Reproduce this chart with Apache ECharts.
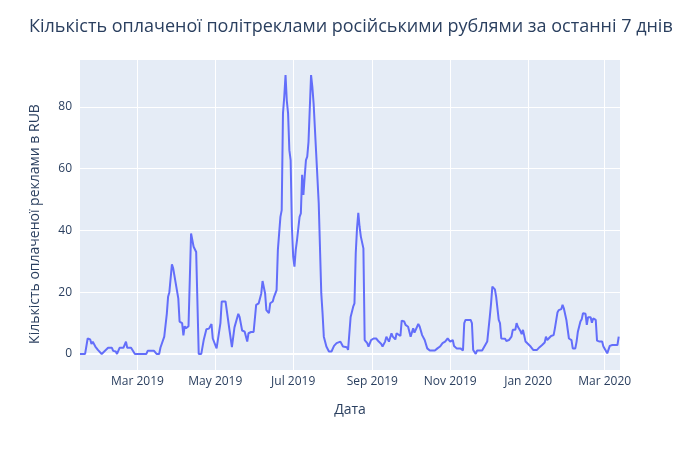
<!DOCTYPE html>
<head>
    <meta charset="UTF-8">
    <title>ECharts</title>
</head>
<body style="margin:0">
<div id="main" style="width:700px;height:450px"></div>
<script src="https://cdn.jsdelivr.net/npm/echarts@6/dist/echarts.min.js"></script>
<script type="text/javascript">
    // days counted from startDate
    var startDate = [2019, 0, 15];
    var dayArray = [
        0, 4, 6, 8, 9, 10, 12, 14, 15, 17, 19, 22, 25, 26, 28, 29, 31, 34, 36, 37,
        40, 43, 52, 53, 58, 60, 62, 63, 66, 68, 69, 70, 72, 73, 77, 78, 80, 81, 82, 83,
        85, 87, 88, 89, 91, 93, 95, 97, 99, 101, 103, 104, 105, 107, 108, 110, 111, 114, 117, 119,
        121, 122, 124, 125, 127, 129, 130, 131, 132, 134, 136, 138, 140, 142, 143, 145, 146, 148, 149, 151,
        152, 154, 155, 156, 157, 158, 159, 160, 161, 162, 163, 164, 165, 166, 167, 168, 169, 170, 171, 172,
        173, 174, 175, 176, 177, 178, 179, 180, 181, 182, 183, 185, 187, 189, 190, 191, 193, 195, 197, 199,
        201, 204, 205, 206, 209, 210, 212, 214, 215, 216, 217, 218, 219, 220, 222, 223, 225, 226, 228, 230,
        232, 234, 236, 237, 239, 240, 242, 243, 244, 245, 247, 248, 249, 251, 252, 254, 255, 257, 258, 259,
        261, 262, 263, 265, 266, 268, 269, 270, 272, 274, 278, 280, 282, 284, 286, 288, 290, 292, 293, 295,
        298, 300, 301, 302, 306, 307, 308, 310, 311, 315, 317, 318, 319, 321, 322, 323, 325, 326, 328, 329,
        330, 333, 334, 336, 338, 339, 341, 342, 343, 345, 346, 347, 349, 350, 353, 355, 358, 360, 362, 364,
        365, 366, 367, 369, 371, 372, 374, 375, 377, 378, 379, 381, 382, 383, 385, 386, 388, 389, 390, 392,
        393, 394, 396, 397, 398, 400, 401, 402, 404, 405, 407, 409, 410, 411, 413, 414, 415, 417, 421, 422,
        423
    ];
    var valueArray = [
        0, 0, 5, 4.7, 3.2, 4, 2.4, 1.3, 1, 0, 0.8, 2, 2, 1, 0.8, 0, 2, 2, 4, 2,
        2, 0, 0, 1, 1, 0, 0, 2, 5.6, 13, 18.5, 20, 29, 27.7, 18, 10.5, 10, 6, 9, 8.3,
        9, 39, 39, 34.7, 33, 0, 0, 4.7, 8, 8.2, 9.7, 5, 5, 1.8, 1.8, 10, 17, 17, 8, 2.2,
        8.6, 8.8, 13, 12, 7.6, 7.2, 7.8, 4, 6.7, 7.1, 7.1, 15.9, 16.4, 19.6, 23.6, 19.6, 14.2, 13.2, 16.4, 17,
        18.5, 20.7, 33.7, 33.7, 44.4, 46.6, 77.9, 83.3, 90.3, 82, 77.9, 66, 62.8, 41.2, 31.5, 28.3, 33.7, 36.9, 36.9, 44.4,
        45.5, 58, 51.5, 57.4, 62.8, 63.9, 68.7, 69.3, 90.3, 86.5, 81.1, 65, 48.8, 19.6, 13.2, 5.6, 2.4, 0.8, 0.8, 2.6,
        3.5, 4, 3.5, 2.4, 2.2, 1.3, 12, 15.3, 16.4, 32.6, 40.7, 45.7, 41.2, 38, 34.2, 4.5, 3.5, 2.4, 4.5, 5,
        5, 4, 3.2, 2.4, 4, 5.6, 4, 4.3, 6.7, 5.6, 4.7, 6.7, 6.9, 5.8, 10.8, 10.5, 9.4, 8.8, 8.8, 5.6,
        8.3, 6.9, 7.4, 9.7, 9, 6.1, 5.6, 4.5, 1.8, 1.1, 1.1, 1.8, 2.4, 3.5, 4, 5, 4, 4.5, 2.6, 1.8,
        1.8, 1.1, 10, 11, 11, 10, 1.3, 0, 1.1, 1.1, 2.6, 2.2, 4, 12, 16.4, 21.8, 20.9, 18.5, 11, 10,
        5, 4.9, 4.2, 4.5, 5.6, 7.8, 7.8, 10, 8.8, 7.4, 6.4, 7.8, 4, 3.5, 2.4, 1.3, 1.3, 2.2, 2.9, 3.7,
        5.6, 4.5, 4.3, 5.8, 6.1, 8.3, 13.4, 14.2, 14.5, 15.9, 14.8, 11, 8, 5, 4.5, 1.8, 1.8, 4, 7.2, 10.5,
        11.2, 13.2, 13, 9.4, 11.9, 11.9, 10.1, 11.5, 11, 4.3, 4, 4, 2.4, 2, 0.2, 0.8, 2.6, 2.9, 2.9, 5.6,
        5.6
    ];
    var xTickArray = ['2019-03-01', '2019-05-01', '2019-07-01', '2019-09-01', '2019-11-01', '2020-01-01', '2020-03-01'];
    var yTickArray = [0, 20, 40, 60, 80];
    var monthNames = ['Jan','Feb','Mar','Apr','May','Jun','Jul','Aug','Sep','Oct','Nov','Dec'];

    function dayToTime(d) {
        return new Date(startDate[0], startDate[1], startDate[2] + d).getTime();
    }
    function parseDay(s) {
        var p = s.split('-');
        return new Date(+p[0], +p[1] - 1, +p[2]).getTime();
    }

    var seriesData = [];
    for (var i = 0; i < dayArray.length; i++) {
        seriesData.push([dayToTime(dayArray[i]), valueArray[i]]);
    }
    var xTicks = xTickArray.map(parseDay);

    var fontColor = '#2a3f5f';
    var option = {
        textStyle: { fontFamily: 'Open Sans' },
        title: {
            text: 'Кількість оплаченої політреклами російськими рублями за останні 7 днів',
            left: 24,
            top: 13,
            textStyle: { fontSize: 18, fontWeight: 'normal', color: fontColor, fontFamily: 'Open Sans' }
        },
        grid: {
            left: 80,
            right: 80,
            top: 60,
            bottom: 80,
            show: true,
            backgroundColor: '#E5ECF6',
            borderWidth: 0
        },
        xAxis: {
            type: 'value',
            min: dayToTime(0),
            max: dayToTime(423),
            name: 'Дата',
            nameLocation: 'middle',
            nameGap: 33,
            nameTextStyle: { fontSize: 14, color: fontColor },
            axisLine: { show: false, onZero: false },
            axisTick: { show: false, customValues: xTicks },
            splitLine: { show: true, lineStyle: { color: '#ffffff', width: 1 } },
            axisLabel: {
                customValues: xTicks,
                fontSize: 12,
                color: fontColor,
                margin: 6,
                formatter: function (v) {
                    var d = new Date(v);
                    return monthNames[d.getMonth()] + ' ' + d.getFullYear();
                }
            }
        },
        yAxis: {
            type: 'value',
            min: -5.2,
            max: 95.2,
            name: 'Кількість оплаченої реклами в RUB',
            nameLocation: 'middle',
            nameGap: 38,
            nameTextStyle: { fontSize: 14, color: fontColor, padding: [0, 18, 0, 0] },
            axisLine: { show: false },
            axisTick: { show: false, customValues: yTickArray },
            splitLine: { show: true, lineStyle: { color: '#ffffff', width: 1 } },
            axisLabel: {
                customValues: yTickArray,
                fontSize: 12,
                color: fontColor,
                margin: 8
            }
        },
        series: [
            {
                type: 'line',
                data: [],
                z: 1,
                silent: true,
                markLine: {
                    z: 1,
                    silent: true,
                    symbol: 'none',
                    label: { show: false },
                    lineStyle: { color: '#ffffff', width: 2, type: 'solid' },
                    data: [{ yAxis: 0 }]
                }
            },
            {
                type: 'line',
                data: seriesData,
                z: 3,
                showSymbol: false,
                lineStyle: { color: '#636efa', width: 2 },
                itemStyle: { color: '#636efa' }
            }
        ]
    };

    var myChart = echarts.init(document.getElementById('main'));
    myChart.setOption(option);
</script>
</body>
